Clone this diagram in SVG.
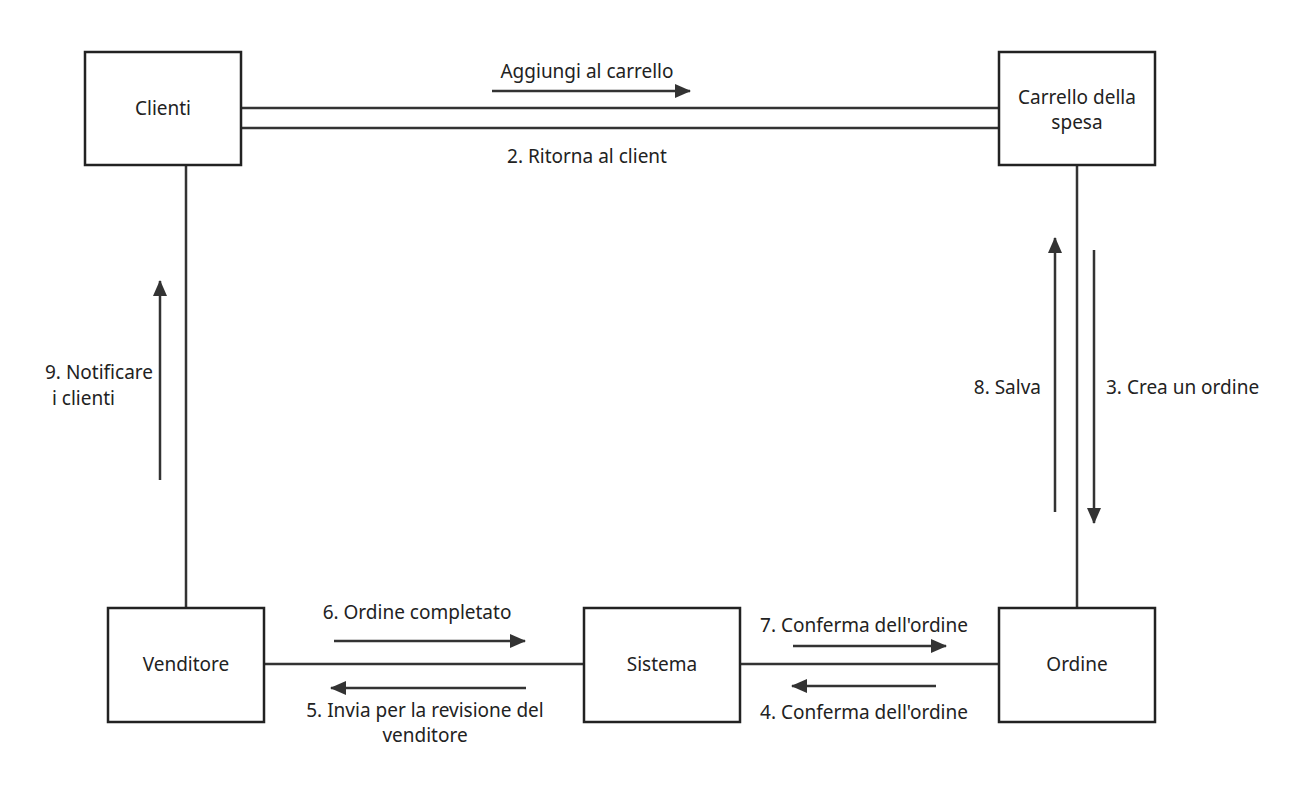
<svg xmlns="http://www.w3.org/2000/svg" width="1308" height="791" viewBox="0 0 1308 791">
<defs>
<marker id="ah" markerWidth="16" markerHeight="14" refX="15" refY="7" orient="auto" markerUnits="userSpaceOnUse" viewBox="0 0 16 14">
<path d="M0,0 L16,7 L0,14 z" fill="#333"/>
</marker>
<style>
.n{fill:#fff;stroke:#222;stroke-width:2.5}
.t{font-family:"Noto Sans","Open Sans",sans-serif;font-size:19px;fill:#222}
.c line{stroke:#333;stroke-width:2.5}
.a{marker-end:url(#ah)}
</style>
</defs>
<rect width="1308" height="791" fill="#fff"/>
<g class="c" id="connectors">
<line x1="241" y1="108" x2="999" y2="108"/>
<line x1="241" y1="128" x2="999" y2="128"/>
<line x1="1077" y1="165" x2="1077" y2="608"/>
<line x1="186" y1="165" x2="186" y2="608"/>
<line x1="264" y1="664" x2="584" y2="664"/>
<line x1="740" y1="664" x2="999" y2="664"/>
<line class="a" x1="492" y1="91" x2="690" y2="91"/>
<line class="a" x1="1055" y1="512" x2="1055" y2="238"/>
<line class="a" x1="1094" y1="250" x2="1094" y2="523"/>
<line class="a" x1="160" y1="480" x2="160" y2="281"/>
<line class="a" x1="334" y1="641" x2="525" y2="641"/>
<line class="a" x1="526" y1="688" x2="331" y2="688"/>
<line class="a" x1="793" y1="646" x2="946" y2="646"/>
<line class="a" x1="936" y1="686" x2="792" y2="686"/>
<text class="t" x="587" y="78" text-anchor="middle">Aggiungi al carrello</text>
<text class="t" x="587" y="163" text-anchor="middle">2. Ritorna al client</text>
<text class="t" x="1106" y="394">3. Crea un ordine</text>
<text class="t" x="1041" y="394" text-anchor="end">8. Salva</text>
<text class="t" x="153" y="379" text-anchor="end">9. Notificare</text>
<text class="t" x="52" y="405">i clienti</text>
<text class="t" x="417" y="619" text-anchor="middle">6. Ordine completato</text>
<text class="t" x="425" y="717" text-anchor="middle">5. Invia per la revisione del</text>
<text class="t" x="425" y="742" text-anchor="middle">venditore</text>
<text class="t" x="864" y="632" text-anchor="middle">7. Conferma dell'ordine</text>
<text class="t" x="864" y="719" text-anchor="middle">4. Conferma dell'ordine</text>
</g>
<g id="clienti"><rect class="n" x="85" y="52" width="156" height="113"/><text class="t" x="163" y="115" text-anchor="middle">Clienti</text></g>
<g id="carrello"><rect class="n" x="999" y="52" width="156" height="113"/><text class="t" x="1077" y="104" text-anchor="middle">Carrello della</text><text class="t" x="1077" y="129" text-anchor="middle">spesa</text></g>
<g id="venditore"><rect class="n" x="108" y="608" width="156" height="114"/><text class="t" x="186" y="671" text-anchor="middle">Venditore</text></g>
<g id="sistema"><rect class="n" x="584" y="608" width="156" height="114"/><text class="t" x="662" y="671" text-anchor="middle">Sistema</text></g>
<g id="ordine"><rect class="n" x="999" y="608" width="156" height="114"/><text class="t" x="1077" y="671" text-anchor="middle">Ordine</text></g>
</svg>
